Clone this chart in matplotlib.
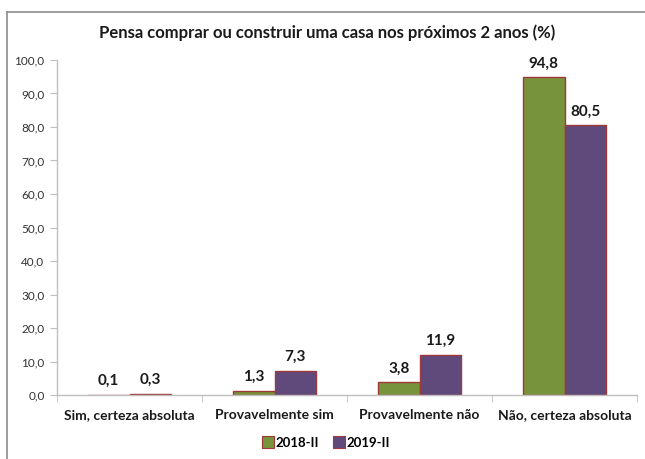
import matplotlib
matplotlib.use("Agg")
import matplotlib.pyplot as plt
from matplotlib.lines import Line2D
import numpy as np

categories = ["Sim, certeza absoluta", "Provavelmente sim", "Provavelmente não", "Não, certeza absoluta"]
series_names = ["2018-II", "2019-II"]
values_2018 = [0.1, 1.3, 3.8, 94.8]
values_2019 = [0.3, 7.3, 11.9, 80.5]
yticks = [0, 10, 20, 30, 40, 50, 60, 70, 80, 90, 100]
title = "Pensa comprar ou construir uma casa nos próximos 2 anos (%)"

colors = ["#77933C", "#604A7B"]
edge = "#A0383A"
font = ["Lato", "DejaVu Sans"]
plt.rcParams['font.family'] = font

fig = plt.figure(figsize=(6.45, 4.59), dpi=100)
ax = fig.add_axes([0.0884, 0.1394, 0.8992, 0.7299])

x = np.arange(len(categories))
w = 0.286
for i, (vals, name) in enumerate(zip([values_2018, values_2019], series_names)):
    pos = x + (i - 0.5) * w
    ax.bar(pos, vals, width=w, color=colors[i], edgecolor=edge, linewidth=1.0, label=name)
    for p, v in zip(pos, vals):
        ax.annotate(f"{v:.1f}".replace(".", ","), (p, v), xytext=(0, 5), textcoords="offset points",
                    ha="center", va="bottom", fontsize=11, fontweight="bold", color="#1a1a1a")

ax.set_xlim(-0.5, len(categories) - 0.5)
ax.set_ylim(0, 100)
ax.set_yticks(yticks)
ax.set_yticklabels([f"{t:.1f}".replace(".", ",") for t in yticks], fontsize=8.5, color="#333333")
ax.set_xticks(x)
ax.set_xticklabels(categories, fontsize=10, fontweight="bold", color="#1a1a1a")
ax.set_xticks(np.arange(-0.5, len(categories)), minor=True)
ax.tick_params(axis="x", which="major", length=0, pad=10)
ax.tick_params(axis="x", which="minor", length=5, color="#BFBFBF")
ax.tick_params(axis="y", length=5, color="#BFBFBF", pad=4)
for s in ["top", "right"]:
    ax.spines[s].set_visible(False)
for s in ["left", "bottom"]:
    ax.spines[s].set_color("#BFBFBF")
    ax.spines[s].set_linewidth(1.0)

fig.text(0.507, 0.928, title, ha="center", va="center", fontsize=12, fontweight="bold", color="#1a1a1a")

handles = [Line2D([0], [0], marker="s", linestyle="none", markersize=8, markerfacecolor=c,
                  markeredgecolor=edge, markeredgewidth=0.8) for c in colors]
fig.legend(handles, series_names, loc="center", bbox_to_anchor=(0.505, 0.035), ncol=2, frameon=False,
           prop={"family": font, "weight": "bold", "size": 9.5}, handletextpad=0.1, columnspacing=1.0,
           handlelength=1.0)

# outer chart border (left and top lines)
fig.add_artist(Line2D([7/645, 7/645], [0, 1 - 12/459], transform=fig.transFigure, color="#8C8C8C", lw=1.2))
fig.add_artist(Line2D([7/645, 1], [1 - 12/459, 1 - 12/459], transform=fig.transFigure, color="#8C8C8C", lw=1.2))

fig.savefig("out.png", dpi=100)
